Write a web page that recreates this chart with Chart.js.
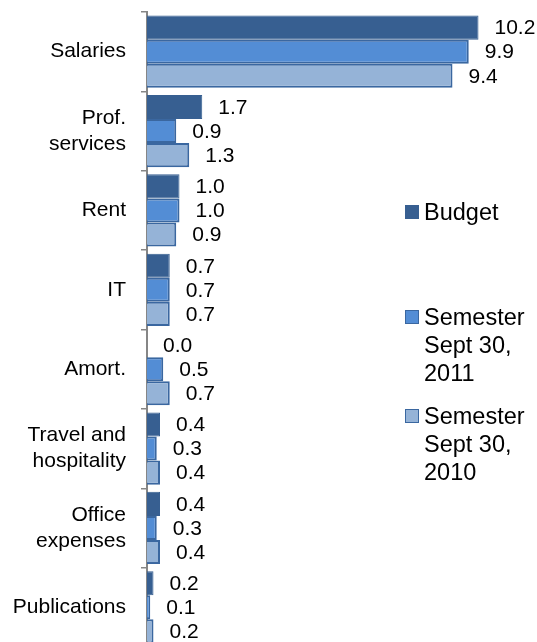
<!DOCTYPE html>
<html>
<head>
<meta charset="utf-8">
<script src="https://cdn.jsdelivr.net/npm/chart.js@4.4.1/dist/chart.umd.min.js"></script>
<style>
  html, body { margin: 0; padding: 0; background: #fff; overflow: hidden; }
  #wrap { position: relative; width: 537px; height: 660px; }
  #legend { position: absolute; left: 405px; top: 0; font-family: "Liberation Sans", Arial, sans-serif; font-size: 23.5px; line-height: 28px; color: #000; }
  .item { position: absolute; left: 0; white-space: nowrap; }
  .box { position: absolute; left: 0; top: 7px; width: 12px; height: 12px; border: 1px solid #3c6aa5; }
  .txt { position: absolute; left: 19px; top: 0; }
</style>
</head>
<body>
<div id="wrap">
  <canvas id="chart" width="537" height="660"></canvas>
  <div id="legend"></div>
</div>
<script>
// data
var categories = [['Salaries'], ['Prof.', 'services'], ['Rent'], ['IT'], ['Amort.'], ['Travel and', 'hospitality'], ['Office', 'expenses'], ['Publications']];
var seriesNames = [['Budget'], ['Semester', 'Sept 30,', '2011'], ['Semester', 'Sept 30,', '2010']];
var budget = [10.2, 1.7, 1.0, 0.7, 0.0, 0.4, 0.4, 0.2];
var sept2011 = [9.9, 0.9, 1.0, 0.7, 0.5, 0.3, 0.3, 0.1];
var sept2010 = [9.4, 1.3, 0.9, 0.7, 0.7, 0.4, 0.4, 0.2];

var fills = ['#375f91', '#538dd5', '#95b3d7'];
var borders = ['#375f91', '#3a67a0', '#3a67a0'];

// value labels next to bars
var valueLabels = {
  id: 'valueLabels',
  afterDatasetsDraw: function(chart) {
    var ctx = chart.ctx;
    ctx.save();
    ctx.font = '21px "Liberation Sans", Arial, sans-serif';
    ctx.fillStyle = '#000';
    ctx.textBaseline = 'middle';
    ctx.textAlign = 'left';
    chart.data.datasets.forEach(function(ds, i) {
      var meta = chart.getDatasetMeta(i);
      meta.data.forEach(function(bar, k) {
        ctx.fillText(ds.data[k].toFixed(1), bar.x + 16, bar.y + 1);
      });
    });
    ctx.restore();
  }
};

var data = {
  labels: categories,
  datasets: [budget, sept2011, sept2010].map(function(vals, i) {
    return {
      label: seriesNames[i].join(' '),
      data: vals,
      backgroundColor: fills[i],
      borderColor: borders[i],
      borderWidth: i === 0 ? 1 : 2,
      barPercentage: 1,
      categoryPercentage: 0.91
    };
  })
};

var config = {
  type: 'bar',
  data: data,
  plugins: [valueLabels],
  options: {
    indexAxis: 'y',
    responsive: false,
    animation: false,
    layout: { padding: { top: 12, bottom: 13, right: 0, left: 0 } },
    plugins: {
      legend: { display: false },
      tooltip: { enabled: false }
    },
    scales: {
      x: {
        display: false,
        min: 0,
        max: 12
      },
      y: {
        afterFit: function(scale) {
          scale.width = 147;
          scale.paddingTop = 0;
          scale.paddingBottom = 0;
        },
        grid: {
          drawOnChartArea: false,
          drawTicks: true,
          tickLength: 6,
          color: '#868686',
          lineWidth: 1.5
        },
        border: { display: true, color: '#868686', width: 2 },
        ticks: {
          padding: 15,
          color: '#000',
          font: { family: '"Liberation Sans", Arial, sans-serif', size: 21, lineHeight: 1.25 }
        }
      }
    }
  }
};

var myChart = new Chart(document.getElementById('chart'), config);

// legend in html
var legendTops = [198, 303, 402];
var legend = document.getElementById('legend');
seriesNames.forEach(function(name, i) {
  var item = document.createElement('div');
  item.className = 'item';
  item.style.top = legendTops[i] + 'px';
  var box = document.createElement('div');
  box.className = 'box';
  box.style.background = fills[i];
  box.style.borderColor = borders[i];
  var txt = document.createElement('div');
  txt.className = 'txt';
  txt.innerHTML = name.join('<br>');
  item.appendChild(box);
  item.appendChild(txt);
  legend.appendChild(item);
});
</script>
</body>
</html>
